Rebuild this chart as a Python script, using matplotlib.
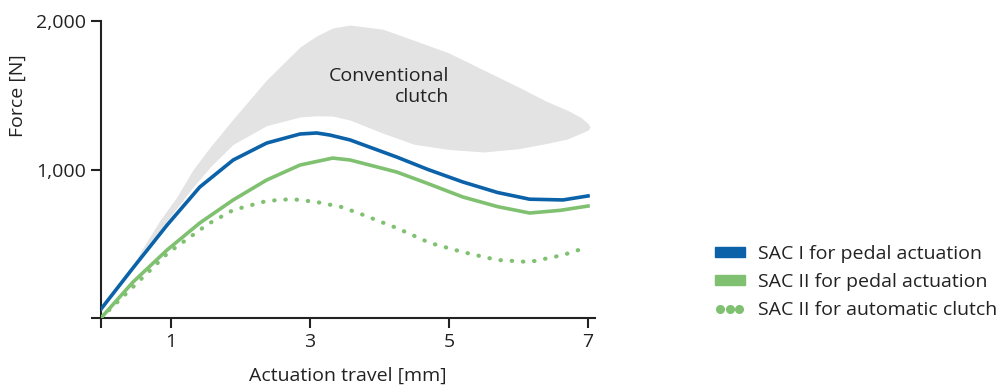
import matplotlib
matplotlib.use("Agg")
import matplotlib.pyplot as plt
from matplotlib.patches import Patch
from matplotlib.lines import Line2D

plt.rcParams["font.family"] = ["Open Sans", "DejaVu Sans"]

# travel [mm] / force [N]
sac1_x = [0.0, 0.46, 0.95, 1.42, 1.9, 2.38, 2.86, 3.1, 3.29, 3.58, 4.25, 4.7, 5.2, 5.7, 6.16, 6.64, 7.0]
sac1_y = [60, 337, 626, 882, 1064, 1178, 1239, 1246, 1232, 1199, 1084, 1000, 916, 845, 800, 795, 822]

sac2_x = [0.0, 0.46, 0.95, 1.42, 1.9, 2.38, 2.86, 3.33, 3.58, 4.25, 4.7, 5.2, 5.7, 6.16, 6.6, 7.0]
sac2_y = [0, 242, 458, 640, 795, 929, 1030, 1077, 1064, 983, 905, 815, 750, 707, 725, 754]

auto_x = [0.0, 0.46, 0.96, 1.54, 1.9, 2.38, 2.74, 3.1, 3.46, 3.77, 4.25, 4.73, 5.2, 5.69, 6.16, 6.64, 6.91, 7.0]
auto_y = [0, 209, 437, 633, 727, 788, 801, 781, 747, 694, 606, 505, 444, 391, 377, 424, 465, 478]

# conventional clutch band (lower / upper edge)
band_x = [0.42, 0.6, 0.85, 1.09, 1.32, 1.57, 1.9, 2.38, 2.86, 3.1, 3.33, 3.58, 4.05, 4.5,
          5.0, 5.5, 6.0, 6.4, 6.7, 6.9, 7.0, 7.03]
band_lo = [323, 450, 595, 741, 880, 1017, 1170, 1295, 1354, 1362, 1360, 1333, 1245, 1170,
           1135, 1118, 1140, 1175, 1205, 1245, 1265, 1285]
band_hi = [323, 470, 660, 815, 997, 1152, 1340, 1603, 1825, 1900, 1953, 1973, 1945, 1870,
           1785, 1670, 1556, 1460, 1400, 1350, 1310, 1285]

x_ticks = [0, 1, 3, 5, 7]
x_labels = ["", "1", "3", "5", "7"]
y_ticks = [0, 1000, 2000]
y_labels = ["", "1,000", "2,000"]

BLUE = "#0b62a8"
GREEN = "#7fc170"
GRAY = "#e3e3e3"
INK = "#222222"
FS = 14

fig = plt.figure(figsize=(10.03, 3.92), dpi=100)
ax = fig.add_axes([0.1007, 0.1888, 0.4925, 0.7576])

ax.fill_between(band_x, band_lo, band_hi, color=GRAY, lw=0, zorder=1)
ax.plot(sac1_x, sac1_y, color=BLUE, lw=2.6, solid_joinstyle="round", zorder=3)
ax.plot(sac2_x, sac2_y, color=GREEN, lw=2.6, solid_joinstyle="round", zorder=3)
ax.plot(auto_x, auto_y, color=GREEN, lw=3, ls=(0, (0.1, 2.6)),
        dash_capstyle="round", zorder=2)

ax.text(5.01, 1560, "Conventional\nclutch", ha="right", va="center",
        multialignment="right", fontsize=FS, color=INK, linespacing=1.25)

ax.set_xlim(0, 7.1)
ax.set_ylim(0, 2000)
ax.set_xticks(x_ticks)
ax.set_xticklabels(x_labels)
ax.set_yticks(y_ticks)
ax.set_yticklabels(y_labels)
ax.tick_params(length=7, width=1.5, color=INK, labelcolor=INK, labelsize=FS)
for side in ("top", "right"):
    ax.spines[side].set_visible(False)
for side in ("left", "bottom"):
    ax.spines[side].set_linewidth(1.5)
    ax.spines[side].set_color(INK)

ax.set_xlabel("Actuation travel [mm]", fontsize=FS, color=INK, labelpad=12)
ax.set_ylabel("Force [N]", fontsize=FS, color=INK)
ax.yaxis.set_label_coords(-0.15, 0.75)

handles = [
    Patch(color=BLUE),
    Patch(color=GREEN),
    Line2D([0], [0], color=GREEN, ls="none", marker="o", markersize=5.5),
]
labels = ["SAC I for pedal actuation", "SAC II for pedal actuation",
          "SAC II for automatic clutch"]
fig.legend(handles, labels, loc="center left", bbox_to_anchor=(0.695, 0.281),
           frameon=False, fontsize=FS, numpoints=3, handlelength=1.55, handleheight=0.45,
           labelspacing=0.52, handletextpad=0.67, labelcolor=INK)

fig.savefig("out.png", dpi=100)
